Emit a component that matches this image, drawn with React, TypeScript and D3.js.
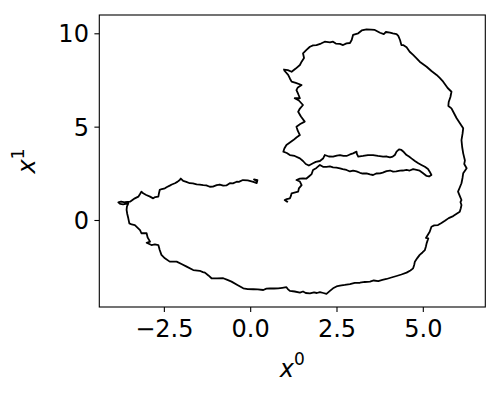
import { useEffect, useRef } from "react";
import * as d3 from "d3";

const width = 500;
const height = 400;
const margin = { top: 15, right: 14.7, bottom: 93, left: 99.3 };

// trajectory, in data units [x0, x1]
const leftArm: [number, number][] = [
  [0.185, 2.09], [0.11, 2.17], [0.21, 2.14], [0.19, 1.98], [0.09, 2.04],
  [-0.07, 2.12], [-0.21, 2.14], [-0.33, 2.04], [-0.39, 2.05], [-0.5, 1.96],
  [-0.59, 1.97], [-0.69, 1.85], [-0.78, 1.84], [-0.88, 1.9], [-0.97, 1.87],
  [-1.08, 1.79], [-1.17, 1.78], [-1.27, 1.85], [-1.36, 1.87], [-1.46, 1.9],
  [-1.55, 1.91], [-1.66, 1.96], [-1.75, 1.97], [-1.85, 2.04], [-1.94, 2.09],
  [-2.01, 2.22], [-2.04, 2.14], [-2.11, 2.04], [-2.18, 1.97], [-2.27, 1.9],
  [-2.33, 1.84], [-2.41, 1.77], [-2.47, 1.7], [-2.56, 1.66], [-2.62, 1.61],
  [-2.64, 1.45], [-2.66, 1.25], [-2.75, 1.23], [-2.81, 1.16], [-2.9, 1.25],
  [-3.01, 1.34], [-3.1, 1.43], [-3.15, 1.52], [-3.19, 1.39], [-3.24, 1.25],
  [-3.34, 1.16], [-3.41, 1.07], [-3.48, 0.98], [-3.63, 0.95], [-3.74, 0.99],
  [-3.82, 0.95], [-3.76, 0.86], [-3.68, 0.84], [-3.53, 0.89],
];

const bottomArc: [number, number][] = [
  [-3.57, 0.72], [-3.58, 0.54], [-3.56, 0.32], [-3.53, 0.09], [-3.5, -0.18],
  [-3.43, -0.24], [-3.34, -0.27], [-3.25, -0.43], [-3.19, -0.54], [-3.15, -0.71],
  [-3.0, -0.71], [-2.97, -0.94], [-2.9, -1.16], [-3.0, -1.22], [-2.86, -1.34],
  [-2.76, -1.31], [-2.66, -1.34], [-2.62, -1.61], [-2.57, -1.87], [-2.47, -2.05],
  [-2.33, -2.23], [-2.13, -2.23], [-1.99, -2.36], [-1.84, -2.5], [-1.65, -2.68],
  [-1.46, -2.72], [-1.37, -2.79], [-1.31, -2.82], [-1.21, -2.97], [-1.12, -3.12],
  [-0.96, -3.13], [-0.78, -3.12], [-0.66, -3.21], [-0.54, -3.3], [-0.37, -3.48],
  [-0.2, -3.66], [-0.07, -3.7], [0.09, -3.71], [0.22, -3.72], [0.38, -3.75],
  [0.47, -3.68], [0.57, -3.66], [0.69, -3.67], [0.81, -3.66], [0.93, -3.63],
  [1.05, -3.6], [1.09, -3.7], [1.15, -3.8], [1.29, -3.83], [1.44, -3.89],
  [1.53, -3.83], [1.61, -3.91], [1.73, -3.93], [1.85, -3.88], [1.93, -3.91],
  [2.02, -3.86], [2.12, -3.91], [2.21, -3.96], [2.31, -3.8], [2.4, -3.66],
  [2.5, -3.56], [2.6, -3.52], [2.74, -3.48], [2.89, -3.43], [3.03, -3.37],
  [3.18, -3.36], [3.32, -3.32], [3.47, -3.3], [3.58, -3.24], [3.71, -3.27],
  [3.83, -3.21], [3.95, -3.16], [4.09, -3.08], [4.24, -3.0], [4.38, -2.92],
  [4.53, -2.82], [4.64, -2.7], [4.72, -2.59], [4.75, -2.41], [4.77, -2.23],
  [4.84, -2.04], [4.91, -1.87], [4.99, -1.74], [5.06, -1.61], [5.09, -1.42],
  [5.11, -1.25], [5.16, -0.98], [5.09, -0.96], [5.2, -0.63], [5.25, -0.36],
  [5.33, -0.29], [5.44, -0.27], [5.54, -0.16], [5.64, -0.04], [5.75, 0.1],
  [5.88, 0.21], [5.98, 0.33], [6.07, 0.44],
];

const rightSide: [number, number][] = [
  [6.1, 0.63], [6.12, 0.8], [6.09, 0.96], [6.12, 1.07], [6.07, 1.29],
  [6.02, 1.52], [6.07, 1.74], [6.12, 1.97], [6.15, 2.25], [6.17, 2.5],
  [6.27, 2.77], [6.2, 3.0], [6.22, 3.19], [6.17, 3.57], [6.14, 3.91],
  [6.12, 4.28], [6.15, 4.61], [6.17, 4.91], [6.07, 5.2], [5.98, 5.45],
  [5.9, 5.73], [5.83, 5.98], [5.74, 6.11], [5.75, 6.32], [5.8, 6.59],
  [5.83, 6.87], [5.72, 7.07], [5.59, 7.41], [5.49, 7.61], [5.4, 7.77],
  [5.25, 7.98], [5.11, 8.21], [4.91, 8.48], [4.82, 8.66], [4.72, 8.84],
  [4.62, 9.01], [4.53, 9.25], [4.43, 9.37], [4.38, 9.37], [4.34, 9.64],
  [4.29, 9.86], [4.24, 9.96],
];

const topArc: [number, number][] = [
  [4.13, 9.99], [4.05, 10.03], [3.93, 10.07], [3.87, 9.96], [3.76, 10.03],
  [3.61, 10.18], [3.5, 10.2], [3.37, 10.21], [3.23, 10.15], [3.13, 10.0],
  [2.98, 9.91], [2.94, 9.64], [2.89, 9.48], [2.79, 9.46], [2.69, 9.37],
  [2.6, 9.43], [2.48, 9.45], [2.4, 9.55], [2.31, 9.51], [2.16, 9.55],
  [2.05, 9.45], [1.92, 9.37], [1.82, 9.35], [1.73, 9.28], [1.63, 9.11],
  [1.53, 8.93], [1.56, 8.68], [1.49, 8.48], [1.44, 8.3], [1.32, 8.11],
  [1.2, 7.94], [1.09, 8.03], [0.98, 8.06], [1.0, 7.98],
];

const innerDrop: [number, number][] = [
  [1.1, 7.77], [1.15, 7.58], [1.2, 7.41], [1.32, 7.34], [1.49, 7.23],
  [1.38, 7.1], [1.34, 6.96], [1.39, 6.75], [1.44, 6.52], [1.29, 6.52],
  [1.41, 6.4], [1.53, 6.16], [1.44, 5.97], [1.39, 5.8], [1.47, 5.54],
  [1.58, 5.27], [1.45, 5.14], [1.34, 5.0], [1.38, 4.77], [1.44, 4.55],
  [1.34, 4.42], [1.25, 4.28], [1.15, 4.15], [1.05, 4.02], [0.99, 3.83],
  [0.96, 3.66], [1.06, 3.59], [1.15, 3.48], [1.29, 3.43], [1.44, 3.3],
  [1.53, 3.16], [1.61, 3.0], [1.7, 2.92], [1.82, 3.04], [1.9, 3.11],
];

const innerLoop: [number, number][] = [
  [2.02, 3.16], [2.11, 3.29], [2.16, 3.48], [2.28, 3.4], [2.4, 3.39],
  [2.51, 3.45], [2.6, 3.48], [2.7, 3.43], [2.79, 3.43], [2.89, 3.51],
  [2.98, 3.57], [3.08, 3.66], [3.09, 3.54], [3.13, 3.39], [3.27, 3.43],
  [3.41, 3.48], [3.56, 3.48], [3.7, 3.43], [3.85, 3.39], [3.96, 3.4],
  [4.05, 3.36], [4.13, 3.4], [4.19, 3.48], [4.24, 3.66], [4.31, 3.78],
  [4.38, 3.75], [4.45, 3.64], [4.53, 3.48], [4.6, 3.4], [4.67, 3.3],
  [4.77, 3.16], [4.87, 3.04], [4.96, 2.95], [5.06, 2.85], [5.15, 2.73],
  [5.2, 2.59], [5.25, 2.41], [5.18, 2.33], [5.11, 2.36], [5.0, 2.52],
  [4.91, 2.64], [4.82, 2.68], [4.72, 2.72], [4.62, 2.65], [4.53, 2.68],
  [4.42, 2.65], [4.34, 2.64], [4.23, 2.6], [4.14, 2.59], [4.05, 2.65],
  [3.95, 2.62], [3.84, 2.54], [3.76, 2.5], [3.65, 2.49], [3.56, 2.41],
  [3.47, 2.44], [3.37, 2.5], [3.26, 2.49], [3.18, 2.53], [3.08, 2.6],
  [2.98, 2.64], [2.89, 2.6], [2.79, 2.68], [2.68, 2.73], [2.6, 2.77],
  [2.5, 2.81], [2.4, 2.82], [2.31, 2.87], [2.21, 2.85], [2.11, 2.85],
  [2.02, 2.95],
];

const lowerBranch: [number, number][] = [
  [1.92, 2.79], [1.82, 2.68], [1.78, 2.46], [1.7, 2.33], [1.63, 2.22],
  [1.53, 2.23], [1.44, 2.22], [1.34, 2.14], [1.44, 2.06], [1.49, 1.87],
  [1.41, 1.69], [1.39, 1.52], [1.28, 1.47], [1.2, 1.43], [1.18, 1.29],
  [1.15, 1.16], [1.06, 1.12], [1.0, 1.07], [1.06, 0.99], [1.1, 0.98],
];

const xTicks = [-2.5, 0, 2.5, 5];
const yTicks = [0, 5, 10];
const xDomain: [number, number] = [-4.37, 6.81];
const yDomain: [number, number] = [-4.66, 10.98];

const font = "'DejaVu Sans', sans-serif";

export default function App() {
  const ref = useRef<SVGSVGElement>(null);

  useEffect(() => {
    document.body.style.margin = "0";
    const svg = d3.select(ref.current);
    svg.selectAll("*").remove();

    const x = d3.scaleLinear().domain(xDomain).range([margin.left, width - margin.right]);
    const y = d3.scaleLinear().domain(yDomain).range([height - margin.bottom, margin.top]);

    const pts = [
      ...leftArm, ...bottomArc, ...rightSide, ...topArc,
      ...innerDrop, ...innerLoop, ...lowerBranch,
    ];

    const line = d3.line<[number, number]>().x(d => x(d[0])).y(d => y(d[1]));

    svg.append("path")
      .attr("d", line(pts))
      .attr("fill", "none")
      .attr("stroke", "#000")
      .attr("stroke-width", 1.8)
      .attr("stroke-linejoin", "round");

    // spines
    svg.append("rect")
      .attr("x", margin.left)
      .attr("y", margin.top)
      .attr("width", width - margin.left - margin.right)
      .attr("height", height - margin.top - margin.bottom)
      .attr("fill", "none")
      .attr("stroke", "#000")
      .attr("stroke-width", 1.1);

    const fmt = (v: number) => d3.format(".1f")(v).replace("-", "\u2212");

    const xa = svg.append("g")
      .attr("transform", `translate(0,${height - margin.bottom})`)
      .call(d3.axisBottom(x).tickValues(xTicks).tickFormat(fmt as any).tickSize(4.9).tickPadding(4.9));
    const ya = svg.append("g")
      .attr("transform", `translate(${margin.left},0)`)
      .call(d3.axisLeft(y).tickValues(yTicks).tickFormat(d3.format("d") as any).tickSize(4.9).tickPadding(5.5));

    [xa, ya].forEach(a => {
      a.select(".domain").remove();
      a.selectAll("line").attr("stroke", "#000").attr("stroke-width", 1.1);
      a.selectAll("text")
        .attr("fill", "#000")
        .style("font-family", font)
        .style("font-size", "24px");
    });
    xa.selectAll("text").attr("dy", null).attr("y", 29.5);
    ya.selectAll("text").attr("dy", "0.36em");

    const xl = svg.append("text")
      .attr("x", (margin.left + width - margin.right) / 2)
      .attr("y", 376.5)
      .attr("text-anchor", "middle")
      .style("font-family", font)
      .style("font-size", "24px");
    xl.append("tspan").attr("font-style", "italic").text("x");
    xl.append("tspan").attr("dy", -11.5).attr("font-size", "17px").text("0");

    const yl = svg.append("text")
      .attr("transform", `translate(35,${(margin.top + height - margin.bottom) / 2}) rotate(-90)`)
      .attr("text-anchor", "middle")
      .style("font-family", font)
      .style("font-size", "24px");
    yl.append("tspan").attr("font-style", "italic").text("x");
    yl.append("tspan").attr("dy", -11.5).attr("font-size", "17px").text("1");
  }, []);

  return <svg ref={ref} width={width} height={height} style={{ display: "block" }} />;
}
